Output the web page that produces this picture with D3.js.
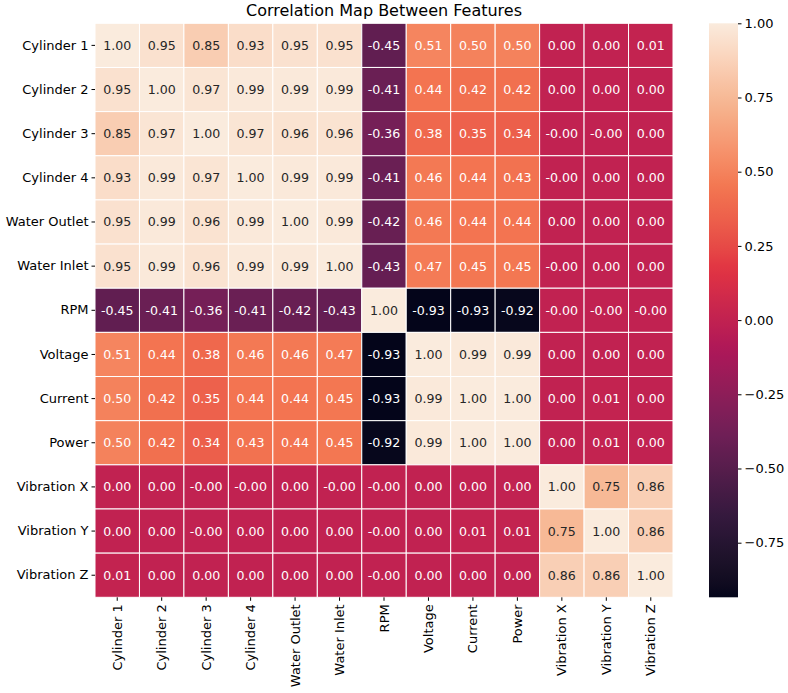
<!DOCTYPE html>
<html><head><meta charset="utf-8">
<script src="https://cdn.jsdelivr.net/npm/d3@7"></script>
<style>body{margin:0;background:#fff;} text{font-family:"DejaVu Sans",sans-serif;}</style>
</head><body><svg id="c" width="788" height="693"></svg>
<script>
const labels = ["Cylinder 1","Cylinder 2","Cylinder 3","Cylinder 4","Water Outlet","Water Inlet","RPM","Voltage","Current","Power","Vibration X","Vibration Y","Vibration Z"];
const rowCylinder1 = [1.00,0.95,0.85,0.93,0.95,0.95,-0.45,0.51,0.50,0.50,0.001,0.001,0.01];
const rowCylinder2 = [0.95,1.00,0.97,0.99,0.99,0.99,-0.41,0.44,0.42,0.42,0.001,0.001,0.001];
const rowCylinder3 = [0.85,0.97,1.00,0.97,0.96,0.96,-0.36,0.38,0.35,0.34,-0.001,-0.001,0.001];
const rowCylinder4 = [0.93,0.99,0.97,1.00,0.99,0.99,-0.41,0.46,0.44,0.43,-0.001,0.001,0.001];
const rowWaterOutlet = [0.95,0.99,0.96,0.99,1.00,0.99,-0.42,0.46,0.44,0.44,0.001,0.001,0.001];
const rowWaterInlet = [0.95,0.99,0.96,0.99,0.99,1.00,-0.43,0.47,0.45,0.45,-0.001,0.001,0.001];
const rowRPM = [-0.45,-0.41,-0.36,-0.41,-0.42,-0.43,1.00,-0.93,-0.93,-0.92,-0.001,-0.001,-0.001];
const rowVoltage = [0.51,0.44,0.38,0.46,0.46,0.47,-0.93,1.00,0.99,0.99,0.001,0.001,0.001];
const rowCurrent = [0.50,0.42,0.35,0.44,0.44,0.45,-0.93,0.99,1.00,1.00,0.001,0.01,0.001];
const rowPower = [0.50,0.42,0.34,0.43,0.44,0.45,-0.92,0.99,1.00,1.00,0.001,0.01,0.001];
const rowVibrationX = [0.001,0.001,-0.001,-0.001,0.001,-0.001,-0.001,0.001,0.001,0.001,1.00,0.75,0.86];
const rowVibrationY = [0.001,0.001,-0.001,0.001,0.001,0.001,-0.001,0.001,0.01,0.01,0.75,1.00,0.86];
const rowVibrationZ = [0.01,0.001,0.001,0.001,0.001,0.001,-0.001,0.001,0.001,0.001,0.86,0.86,1.00];
const matrix = [rowCylinder1,rowCylinder2,rowCylinder3,rowCylinder4,rowWaterOutlet,rowWaterInlet,rowRPM,rowVoltage,rowCurrent,rowPower,rowVibrationX,rowVibrationY,rowVibrationZ];
const colorbarTicks = [1.00,0.75,0.50,0.25,0.00,-0.25,-0.50,-0.75];
const vmin = -0.934, vmax = 1.0;

// rocket colormap approximation
const rocketStops = ["#03051a","#35193e","#701f57","#ad1759","#e13342","#f37651","#f6b48f","#faebdd"];
const rocket = d3.scaleLinear().domain(rocketStops.map((d,i)=>i/(rocketStops.length-1))).range(rocketStops).interpolate(d3.interpolateLab).clamp(true);
const norm = d3.scaleLinear().domain([vmin,vmax]).range([0,1]);
const color = v => rocket(norm(v));

const svg = d3.select("#c");
const L=95, T=23.3, W=578, H=574;
const x = d3.scaleBand().domain(labels).range([L,L+W]);
const y = d3.scaleBand().domain(labels).range([T,T+H]);

svg.append("text").attr("x",L+W/2).attr("y",16).attr("text-anchor","middle").attr("font-size",16).attr("fill","#000").text("Correlation Map Between Features");

const cells = [];
matrix.forEach((row,i)=>row.forEach((v,j)=>cells.push({r:labels[i],c:labels[j],v})));
const g = svg.append("g");
g.selectAll("rect").data(cells).join("rect")
 .attr("x",d=>x(d.c)).attr("y",d=>y(d.r)).attr("width",x.bandwidth()).attr("height",y.bandwidth())
 .attr("fill",d=>color(d.v)).attr("stroke","#fff").attr("stroke-width",1);
function lum(c){const r=d3.rgb(c);const f=u=>{u/=255;return u<=0.03928?u/12.92:Math.pow((u+0.055)/1.055,2.4);};return 0.2126*f(r.r)+0.7152*f(r.g)+0.0722*f(r.b);}
g.selectAll("text").data(cells).join("text")
 .attr("x",d=>x(d.c)+x.bandwidth()/2).attr("y",d=>y(d.r)+y.bandwidth()/2)
 .attr("text-anchor","middle").attr("dominant-baseline","central").attr("font-size",12.6)
 .attr("fill",d=>lum(color(d.v))>0.408?"#262626":"#ffffff")
 .text(d=>d.v.toFixed(2));

const ax = svg.append("g").attr("transform",`translate(0,${T+H})`).call(d3.axisBottom(x).tickSize(3.5).tickPadding(3));
ax.select(".domain").remove();
ax.selectAll("text").attr("font-size",13).attr("fill","#000").attr("transform","rotate(-90)").attr("text-anchor","end").attr("dy","0.35em").attr("x",-7).attr("y",0);
ax.selectAll("line").attr("stroke","#000");
const ay = svg.append("g").attr("transform",`translate(${L},0)`).call(d3.axisLeft(y).tickSize(3.5).tickPadding(3));
ay.select(".domain").remove();
ay.selectAll("text").attr("font-size",13).attr("fill","#000");
ay.selectAll("line").attr("stroke","#000");

// colorbar
const cbX=709, cbW=29, cbTop=T, cbBot=T+H;
const cy = d3.scaleLinear().domain([vmin,vmax]).range([cbBot,cbTop]);
const defs = svg.append("defs");
const grad = defs.append("linearGradient").attr("id","cb").attr("x1",0).attr("y1",1).attr("x2",0).attr("y2",0);
d3.range(0,1.0001,0.02).forEach(t=>grad.append("stop").attr("offset",t).attr("stop-color",rocket(t)));
svg.append("rect").attr("x",cbX).attr("y",cbTop).attr("width",cbW).attr("height",cbBot-cbTop).attr("fill","url(#cb)");
const ac = svg.append("g").attr("transform",`translate(${cbX+cbW},0)`).call(d3.axisRight(cy).tickValues(colorbarTicks).tickFormat(d3.format(".2f")).tickSize(3.5).tickPadding(3));
ac.select(".domain").remove();
ac.selectAll("text").attr("font-size",13).attr("fill","#000");
ac.selectAll("line").attr("stroke","#000");
</script></body></html>
